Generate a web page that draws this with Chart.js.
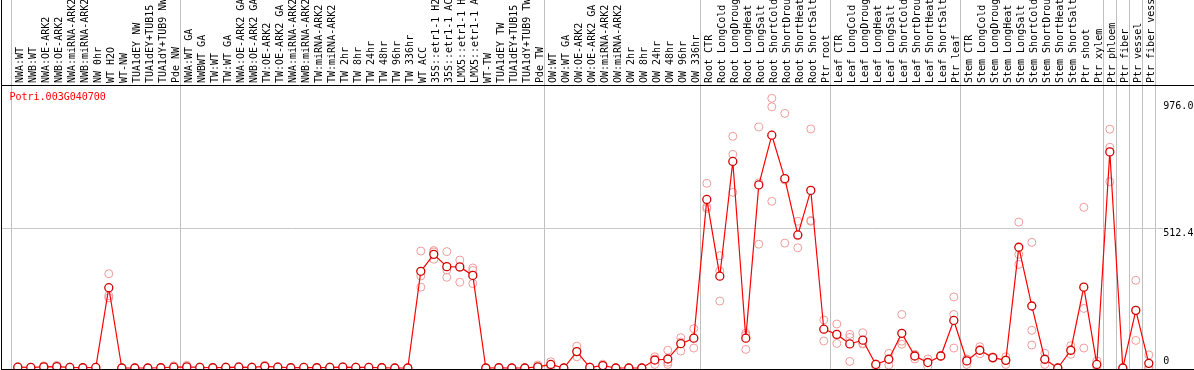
<!DOCTYPE html>
<html>
<head>
<meta charset="utf-8">
<script src="https://cdn.jsdelivr.net/npm/chart.js@4"></script>
<style>
  html, body { margin: 0; padding: 0; background: #fff; }
</style>
</head>
<body>
<canvas id="expr" width="1194" height="370"></canvas>
<script>
const geneId = 'Potri.003G040700'

const samples = [
  'NWA:WT', 'NWB:WT', 'NWA:OE-ARK2', 'NWB:OE-ARK2', 'NWA:miRNA-ARK2', 'NWB:miRNA-ARK2',
  'NW 0hr', 'WT H2O', 'WT-NW', 'TUA1dEY NW', 'TUA1dEY+TUB15', 'TUA1dY+TUB9 NW', 'Pde NW',
  'NWA:WT GA', 'NWBWT GA', 'TW:WT', 'TW:WT GA', 'NWA:OE-ARK2 GA', 'NWB:OE-ARK2 GA',
  'TW:OE-ARK2', 'TW:OE-ARK2 GA', 'NWA:miRNA-ARK2', 'NWB:miRNA-ARK2', 'TW:miRNA-ARK2',
  'TW:miRNA-ARK2', 'TW 2hr', 'TW 8hr', 'TW 24hr', 'TW 48hr', 'TW 96hr', 'TW 336hr',
  'WT ACC', '35S::etr1-1 H2', '35S::etr1-1 AC', 'LMX5::etr1-1 H', 'LMX5::etr1-1 A',
  'WT-TW', 'TUA1dEY TW', 'TUA1dEY+TUB15', 'TUA1dY+TUB9 TW', 'Pde TW',
  'OW:WT', 'OW:WT GA', 'OW:OE-ARK2', 'OW:OE-ARK2 GA', 'OW:miRNA-ARK2', 'OW:miRNA-ARK2',
  'OW 2hr', 'OW 8hr', 'OW 24hr', 'OW 48hr', 'OW 96hr', 'OW 336hr',
  'Root CTR', 'Root LongCold', 'Root LongDroug', 'Root LongHeat', 'Root LongSalt',
  'Root ShortCold', 'Root ShortDrou', 'Root ShortHeat', 'Root ShortSalt', 'Ptr root',
  'Leaf CTR', 'Leaf LongCold', 'Leaf LongDroug', 'Leaf LongHeat', 'Leaf LongSalt',
  'Leaf ShortCold', 'Leaf ShortDrou', 'Leaf ShortHeat', 'Leaf ShortSalt', 'Ptr leaf',
  'Stem CTR', 'Stem LongCold', 'Stem LongDroug', 'Stem LongHeat', 'Stem LongSalt',
  'Stem ShortCold', 'Stem ShortDrou', 'Stem ShortHeat', 'Stem ShortSalt', 'Ptr shoot',
  'Ptr xylem', 'Ptr phloem', 'Ptr fiber', 'Ptr vessel', 'Ptr fiber vess'
]

// mean expression per sample
const meanExpr = [
  3, 2, 4, 5, 2, 1, 2, 294, 0, 0, 0, 1, 3,
  4, 2, 1, 2, 3, 2, 6, 3, 1, 2, 1, 2, 3, 2, 2, 1, 0, 0,
  354, 416, 371, 370, 339, 0, 1, 0, 0, 4,
  13, 0, 60, 2, 9, 0, 0, 0, 29, 33, 89, 109,
  617, 336, 756, 109, 670, 852, 693, 487, 650, 142,
  123, 88, 102, 13, 32, 127, 44, 20, 44, 174,
  26, 65, 38, 28, 442, 227, 32, 0, 65, 296,
  13, 791, 0, 211, 17
]

// replicates
const rep1 = [
  3, 2, 8, 10, 2, 1, 2, 345, 0, 0, 0, 1, 8,
  10, 4, 1, 4, 6, 4, 10, 5, 2, 3, 2, 4, 5, 3, 3, 2, 0, 0,
  428, 430, 426, 395, 366, 0, 2, 0, 1, 11,
  23, 0, 80, 4, 14, 0, 1, 1, 41, 65, 111, 144,
  676, 411, 848, 127, 882, 987, 932, 537, 875, 176,
  161, 123, 129, 15, 54, 196, 50, 33, 46, 260,
  33, 78, 41, 41, 534, 460, 54, 0, 82, 588,
  26, 874, 0, 321, 48
]
const rep2 = [
  4, 3, 3, 4, 3, 1, 3, 265, 0, 0, 0, 2, 1,
  2, 2, 2, 2, 2, 2, 6, 3, 1, 2, 1, 2, 3, 2, 2, 1, 0, 0,
  337, 425, 359, 368, 357, 0, 1, 0, 0, 2,
  12, 0, 60, 2, 9, 0, 0, 0, 33, 21, 95, 110,
  590, 355, 782, 120, 678, 956, 688, 484, 540, 142,
  120, 112, 90, 13, 32, 98, 48, 22, 44, 196,
  32, 65, 38, 30, 416, 138, 30, 0, 63, 218,
  10, 808, 0, 211, 3
]
const rep3 = [
  2, 1, 1, 1, 1, 1, 1, 257, 0, 0, 0, 0, 0,
  0, 1, 0, 1, 1, 0, 2, 1, 0, 1, 0, 1, 1, 1, 1, 0, 0, 0,
  296, 398, 332, 314, 309, 0, 0, 0, 0, 0,
  4, 0, 41, 0, 4, 0, 0, 0, 13, 13, 62, 73,
  584, 245, 643, 68, 453, 610, 457, 440, 537, 99,
  90, 24, 88, 2, 11, 87, 33, 5, 42, 73,
  13, 52, 35, 13, 379, 84, 13, 0, 50, 73,
  3, 682, 0, 101, 0
]

const yTicks = [0, 512.4, 976.0]
// category indexes where a group separator line sits (left edge)
const groupEdges = [0, 13, 41, 53, 63, 73, 84, 85, 86, 87]

const mono = "'DejaVu Sans Mono', monospace"

const framePlugin = {
  id: 'frame',
  beforeDatasetsDraw(chart) {
    const { ctx, chartArea, scales } = chart
    const gy = Math.round(scales.y.getPixelForValue(yTicks[1])) + 0.5
    ctx.save()
    ctx.strokeStyle = '#c8c8c8'
    ctx.lineWidth = 1
    ctx.beginPath()
    ctx.moveTo(1, gy)
    ctx.lineTo(chartArea.right + 8, gy)
    ctx.stroke()
    ctx.restore()
  },
  afterDraw(chart) {
    const { ctx, chartArea, width } = chart
    ctx.save()
    ctx.strokeStyle = '#000'
    ctx.lineWidth = 1
    ctx.beginPath()
    ctx.moveTo(1.5, 0)
    ctx.lineTo(1.5, chartArea.bottom + 0.5)
    ctx.moveTo(1, chartArea.top + 0.5)
    ctx.lineTo(width, chartArea.top + 0.5)
    ctx.moveTo(1, chartArea.bottom + 0.5)
    ctx.lineTo(width, chartArea.bottom + 0.5)
    ctx.stroke()

    ctx.fillStyle = '#ff0000'
    ctx.font = '10px ' + mono
    ctx.textBaseline = 'middle'
    ctx.fillText(geneId, 9.5, chartArea.top + 12.5)
    ctx.restore()
  }
}

const repStyle = {
  showLine: false,
  pointRadius: 4,
  pointBorderWidth: 1,
  pointBorderColor: '#f09a9a',
  pointBackgroundColor: 'rgba(255,255,255,0)',
  borderColor: '#f09a9a'
}

new Chart(document.querySelector('#expr'), {
  type: 'line',
  data: {
    labels: samples,
    datasets: [
      {
        label: geneId,
        data: meanExpr,
        borderColor: '#ff0000',
        borderWidth: 1.2,
        pointRadius: 4,
        pointBorderWidth: 1.3,
        pointBorderColor: '#d00000',
        pointBackgroundColor: '#ffffff',
        tension: 0
      },
      { label: 'rep1', data: rep1, ...repStyle },
      { label: 'rep2', data: rep2, ...repStyle },
      { label: 'rep3', data: rep3, ...repStyle }
    ]
  },
  options: {
    responsive: false,
    animation: false,
    devicePixelRatio: 1,
    layout: { autoPadding: false, padding: { left: 11.3, right: 0, top: 0, bottom: 1 } },
    plugins: {
      legend: { display: false },
      tooltip: { enabled: false },
      title: { display: false }
    },
    scales: {
      x: {
        type: 'category',
        position: 'top',
        offset: true,
        border: { display: false },
        grid: {
          offset: true,
          tickLength: 85,
          lineWidth: 1,
          color: ctx => (ctx.type !== 'tick' || groupEdges.includes(ctx.index)) ? '#c0c0c0' : 'rgba(0,0,0,0)'
        },
        ticks: {
          autoSkip: false,
          minRotation: 90,
          maxRotation: 90,
          padding: -83,
          labelOffset: 15,
          color: '#000',
          font: { family: mono, size: 10 }
        },
        afterFit: s => {
          s.height = 85
          s.paddingLeft = 0
          s.paddingRight = 0
        }
      },
      y: {
        type: 'linear',
        position: 'right',
        min: -3.66,
        max: 1035.8,
        border: { display: false },
        grid: { display: false, drawTicks: false },
        afterBuildTicks: s => { s.ticks = yTicks.map(v => ({ value: v })) },
        ticks: {
          padding: 8,
          labelOffset: 5,
          color: '#000',
          font: { family: mono, size: 10 },
          callback: v => v === 0 ? ['0', '', ''] : Number(v).toFixed(1)
        },
        afterFit: s => {
          s.width = 38.7
          s.paddingTop = 0
          s.paddingBottom = 0
        }
      }
    }
  },
  plugins: [framePlugin]
})
</script>
</body>
</html>
